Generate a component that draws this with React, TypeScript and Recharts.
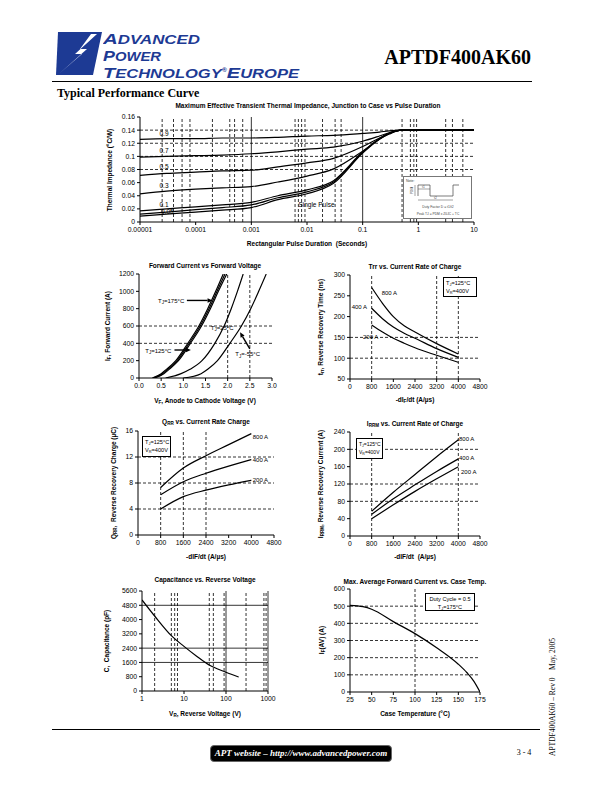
import React from "react";
import { LineChart, Line, XAxis, YAxis, ReferenceLine, ReferenceDot } from "recharts";

const SANS = "'Liberation Sans', Arial, Helvetica, sans-serif";
const SERIF = "'Liberation Serif', 'Times New Roman', serif";
const BLUE = "#1d3a94";

// ---- transient thermal impedance ----
const pulseTime = [0.00001, 0.00003, 0.0001, 0.0003, 0.001, 0.003, 0.01, 0.03, 0.1, 0.2, 0.3, 0.5, 1, 10];
const zDuty09 = [0.126, 0.127, 0.127, 0.128, 0.128, 0.129, 0.131, 0.132, 0.135, 0.137, 0.139, 0.14, 0.14, 0.14];
const zDuty07 = [0.099, 0.1, 0.101, 0.102, 0.104, 0.107, 0.111, 0.114, 0.123, 0.131, 0.136, 0.14, 0.14, 0.14];
const zDuty05 = [0.071, 0.074, 0.076, 0.078, 0.079, 0.084, 0.09, 0.097, 0.115, 0.128, 0.135, 0.14, 0.14, 0.14];
const zDuty03 = [0.043, 0.047, 0.05, 0.052, 0.054, 0.061, 0.07, 0.081, 0.108, 0.126, 0.134, 0.14, 0.14, 0.14];
const zDuty01 = [0.017, 0.02, 0.023, 0.026, 0.03, 0.04, 0.049, 0.063, 0.107, 0.127, 0.135, 0.14, 0.14, 0.14];
const zDuty005 = [0.012, 0.015, 0.019, 0.022, 0.026, 0.037, 0.046, 0.061, 0.106, 0.127, 0.135, 0.14, 0.14, 0.14];
const zSingle = [0.009, 0.012, 0.015, 0.018, 0.022, 0.034, 0.043, 0.059, 0.105, 0.126, 0.135, 0.14, 0.14, 0.14];
const pulseTicks = [0.00001, 0.0001, 0.001, 0.01, 0.1, 1, 10];
const pulseTickLabels = ["0.00001", "0.0001", "0.001", "0.01", "0.1", "1", "10"];
const zTicks = [0, 0.02, 0.04, 0.06, 0.08, 0.1, 0.12, 0.14, 0.16];
const pulseDashX = [0.000025, 0.00004, 0.000057, 0.000079, 0.0002, 0.00041, 0.0005, 0.0007, 0.0061, 0.007, 0.008, 0.0092, 0.019, 0.032, 0.041, 0.51, 0.72, 0.83, 0.93, 3.1, 4.1, 6.3];
const pulseSolidX = [0.001, 0.1];
const zDashY = [0.08, 0.1, 0.12, 0.14];

// ---- forward current vs forward voltage ----
const fwdCurrent = [0, 50, 100, 200, 400, 600, 800, 1000, 1200];
const vf175 = [0.3, 0.5, 0.62, 0.83, 1.1, 1.35, 1.55, 1.73, 1.9];
const vf150 = [0.32, 0.53, 0.65, 0.86, 1.13, 1.38, 1.58, 1.76, 1.94];
const vf125 = [0.35, 0.56, 0.68, 0.89, 1.16, 1.41, 1.61, 1.79, 1.98];
const vf25 = [0.6, 0.95, 1.15, 1.42, 1.71, 1.92, 2.08, 2.22, 2.35];
const vfm55 = [1.0, 1.4, 1.55, 1.77, 2.05, 2.31, 2.52, 2.7, 2.87];
const vfTicks = [0, 0.5, 1, 1.5, 2, 2.5, 3];
const ifTicks = [0, 200, 400, 600, 800, 1000, 1200];

// ---- trr ----
const trrRate = [800, 1200, 1600, 2000, 2400, 3200, 4000];
const trr800 = [270, 232, 200, 178, 163, 135, 110];
const trr400 = [220, 195, 175, 160, 148, 123, 102];
const trr200 = [180, 163, 148, 136, 125, 107, 90];
const trrTicks = [50, 100, 150, 200, 250, 300];
const rateTicks = [0, 800, 1600, 2400, 3200, 4000, 4800];

// ---- Qrr ----
const qrrRate = [800, 1600, 2400, 3200, 4000];
const qrr800 = [7.3, 10.3, 12.2, 13.9, 15.6];
const qrr400 = [6.2, 8.2, 9.5, 10.6, 11.6];
const qrr200 = [4.0, 5.9, 6.9, 7.7, 8.4];
const qrrTicks = [0, 4, 8, 12, 16];

// ---- Irrm ----
const irrmRate = [800, 1600, 2400, 3200, 4000];
const irrm800 = [57, 101, 142, 183, 222];
const irrm400 = [50, 86, 118, 149, 178];
const irrm200 = [40, 72, 103, 132, 160];
const irrmTicks = [0, 40, 80, 120, 160, 200, 240];

// ---- capacitance ----
const capVolt = [1, 2, 5, 10, 20, 40, 100, 200];
const capPf = [5100, 4200, 3100, 2500, 1950, 1450, 1050, 780];
const capTicksX = [1, 10, 100, 1000];
const capTicksY = [0, 800, 1600, 2400, 3200, 4000, 4800, 5600];
const capDashX = [2, 5, 6, 7, 40, 50, 90, 300, 800, 900];
const capSolidX = [100, 1000];
const capSolidY = [1600, 2400, 4800];

// ---- average forward current vs case temp ----
const caseTemp = [25, 40, 50, 75, 100, 125, 150, 160, 168, 175];
const ifAvg = [505, 497, 482, 410, 340, 258, 162, 112, 62, 0];
const tempTicks = [25, 50, 75, 100, 125, 150, 175];
const ifAvgTicks = [0, 100, 200, 300, 400, 500, 600];

const xy = (xs: number[], ys: number[]) => xs.map((x, k) => ({ x, y: ys[k] }));

const thermalRows = pulseTime.map((t, k) => ({
  t,
  d09: zDuty09[k],
  d07: zDuty07[k],
  d05: zDuty05[k],
  d03: zDuty03[k],
  d01: zDuty01[k],
  d005: zDuty005[k],
  single: zSingle[k],
}));

const tickStyle = { fontSize: 6.8, fill: "#000", fontFamily: SANS };
const axisCommon = {
  axisLine: { stroke: "#000" },
  tickLine: { stroke: "#000" },
  tickSize: 3,
  tickMargin: 2,
  tick: tickStyle,
  interval: 0 as const,
  allowDataOverflow: true,
};
// extra room on the right so the last x tick label is not clipped
const MR = 14;

const DASH = "3 2";
const vLines = (xs: number[], dashed = true) =>
  xs.map((x) => (
    <ReferenceLine key={"v" + x + dashed} x={x} stroke="#000" strokeWidth={0.8} strokeDasharray={dashed ? DASH : undefined} />
  ));
const hLines = (ys: number[], dashed = true) =>
  ys.map((y) => (
    <ReferenceLine key={"h" + y + dashed} y={y} stroke="#000" strokeWidth={0.8} strokeDasharray={dashed ? DASH : undefined} />
  ));

const curve = (key: string, dataKey: string, data?: any[]) => (
  <Line
    key={key}
    data={data}
    type="monotone"
    dataKey={dataKey}
    stroke="#000"
    strokeWidth={1.2}
    dot={false}
    activeDot={false}
    isAnimationActive={false}
  />
);

const note =
  (content: React.ReactNode, anchor: "start" | "middle" | "end" = "start", size = 6.5) =>
  (p: any) =>
    (
      <text x={p.cx} y={p.cy} fontSize={size} fontFamily={SANS} fill="#000" textAnchor={anchor} dominantBaseline="central">
        {content}
      </text>
    );

const tj = (rest: string) => (
  <>
    <tspan>T</tspan>
    <tspan fontSize={4.5} dy={1.5}>J</tspan>
    <tspan dy={-1.5}>{rest}</tspan>
  </>
);

const arrow = (p: any) => {
  const { x1, y1, x2, y2 } = p;
  const a = Math.atan2(y2 - y1, x2 - x1);
  const L = 5;
  const W = 2.3;
  const bx = x2 - L * Math.cos(a);
  const by = y2 - L * Math.sin(a);
  const px = -Math.sin(a) * W;
  const py = Math.cos(a) * W;
  return (
    <g>
      <line x1={x1} y1={y1} x2={bx} y2={by} stroke="#000" strokeWidth={1.4} />
      <polygon points={`${x2},${y2} ${bx + px},${by + py} ${bx - px},${by - py}`} fill="#000" />
    </g>
  );
};

function T({ x, y, s = 6.5, b = false, rot = 0, font = SANS, style = {}, children }: any) {
  return (
    <div
      style={{
        position: "absolute",
        left: x,
        top: y,
        transform: `translate(-50%,-50%) rotate(${rot}deg)`,
        fontSize: s,
        fontWeight: b ? 700 : 400,
        fontFamily: font,
        whiteSpace: "pre",
        lineHeight: 1,
        color: "#000",
        ...style,
      }}
    >
      {children}
    </div>
  );
}

const Sub = ({ children }: any) => <sub style={{ fontSize: "70%", verticalAlign: "-0.25em", lineHeight: 0 }}>{children}</sub>;

function CondBox({ l, t, w, h, center = false, s = 5.6, children }: any) {
  return (
    <div
      style={{
        position: "absolute",
        left: l,
        top: t,
        width: w,
        height: h,
        boxSizing: "border-box",
        border: "1px solid #000",
        background: "#fff",
        fontSize: s,
        fontFamily: SANS,
        lineHeight: "8px",
        padding: "1px 2px",
        textAlign: center ? "center" : "left",
        whiteSpace: "nowrap",
        overflow: "hidden",
      }}
    >
      {children}
    </div>
  );
}

// one stretched line of the logo lettering
function LogoWord({ y, len, children }: any) {
  return (
    <text
      x={0}
      y={y}
      fill={BLUE}
      fontFamily={SANS}
      fontWeight={900}
      fontStyle="italic"
      textLength={len}
      lengthAdjust="spacingAndGlyphs"
    >
      {children}
    </text>
  );
}

function Header() {
  const big = 14.5;
  const small = 12;
  return (
    <>
      <svg style={{ position: "absolute", left: 55, top: 31 }} width={48} height={46}>
        <polygon points="3,1 47,1 38,44 1,44" fill={BLUE} />
        <polygon points="42,3 20,23 27,23 5,42 32,18 25,18 36,3" fill="#fff" />
      </svg>
      <svg style={{ position: "absolute", left: 103, top: 30 }} width={205} height={52}>
        <LogoWord y={14} len={97}>
          <tspan fontSize={big}>A</tspan>
          <tspan fontSize={small}>DVANCED</tspan>
        </LogoWord>
        <LogoWord y={30.8} len={58}>
          <tspan fontSize={big}>P</tspan>
          <tspan fontSize={small}>OWER</tspan>
        </LogoWord>
        <LogoWord y={47.6} len={196}>
          <tspan fontSize={big}>T</tspan>
          <tspan fontSize={small}>ECHNOLOGY</tspan>
          <tspan fontSize={5} dy={-6}>®</tspan>
          <tspan fontSize={big} dy={6}>E</tspan>
          <tspan fontSize={small}>UROPE</tspan>
        </LogoWord>
      </svg>
      <div
        style={{
          position: "absolute",
          right: 612 - 531,
          top: 46,
          fontFamily: SERIF,
          fontWeight: 700,
          fontSize: 20,
          lineHeight: "22px",
        }}
      >
        APTDF400AK60
      </div>
      <div style={{ position: "absolute", left: 52, top: 81, width: 480, height: 1, background: "#000" }} />
      <div style={{ position: "absolute", left: 57, top: 86, fontFamily: SERIF, fontWeight: 700, fontSize: 12, lineHeight: "14px" }}>
        Typical Performance Curve
      </div>
    </>
  );
}

function ThermalChart() {
  return (
    <>
      <T x={308} y={106} b>
        Maximum Effective Transient Thermal Impedance, Junction to Case vs Pulse Duration
      </T>
      <div style={{ position: "absolute", left: 100, top: 110 }}>
        <LineChart width={374 + MR} height={130} data={thermalRows} margin={{ top: 7, right: MR, bottom: 0, left: 0 }}>
          <XAxis
            dataKey="t"
            type="number"
            scale="log"
            domain={[0.00001, 10]}
            ticks={pulseTicks}
            tickFormatter={(v: number) => pulseTickLabels[pulseTicks.indexOf(v)] ?? String(v)}
            height={18}
            {...axisCommon}
          />
          <YAxis type="number" domain={[0, 0.16]} ticks={zTicks} width={40} {...axisCommon} />
          {vLines(pulseDashX)}
          {vLines(pulseSolidX, false)}
          {hLines(zDashY)}
          {curve("d09", "d09")}
          {curve("d07", "d07")}
          {curve("d05", "d05")}
          {curve("d03", "d03")}
          {curve("d01", "d01")}
          {curve("d005", "d005")}
          {curve("single", "single")}
          <ReferenceDot x={0.000027} y={0.1355} r={0} ifOverflow="visible" shape={note("0.9", "middle")} />
          <ReferenceDot x={0.000027} y={0.109} r={0} ifOverflow="visible" shape={note("0.7", "middle")} />
          <ReferenceDot x={0.000027} y={0.0843} r={0} ifOverflow="visible" shape={note("0.5", "middle")} />
          <ReferenceDot x={0.000027} y={0.055} r={0} ifOverflow="visible" shape={note("0.3", "middle")} />
          <ReferenceDot x={0.000027} y={0.0266} r={0} ifOverflow="visible" shape={note("0.1", "middle")} />
          <ReferenceDot x={0.000031} y={0.0153} r={0} ifOverflow="visible" shape={note("0.05", "middle")} />
          <ReferenceDot x={0.0148} y={0.0266} r={0} ifOverflow="visible" shape={note("Single Pulse", "middle")} />
        </LineChart>
      </div>
      <T x={110} y={170} rot={-90} b>
        Thermal Impedance (°C/W)
      </T>
      <T x={307} y={244} b>
        Rectangular Pulse Duration{"  "}(Seconds)
      </T>
      <div
        style={{
          position: "absolute",
          left: 403,
          top: 176,
          width: 69,
          height: 43,
          background: "#fff",
          border: "1px solid #777",
          boxSizing: "border-box",
        }}
      >
        <svg width={67} height={41} style={{ display: "block" }} fontFamily={SANS} fill="#444">
          <text x={2} y={5} fontSize={3.6}>
            Note:
          </text>
          <polyline points="14,19 14,8 26,8 26,19 49,19 49,8 55,8" fill="none" stroke="#444" strokeWidth={0.7} />
          <line x1={11} y1={8} x2={11} y2={19} stroke="#444" strokeWidth={0.5} />
          <text transform="translate(9,13.5) rotate(-90)" fontSize={3.2} textAnchor="middle">
            PDM
          </text>
          <line x1={14} y1={12} x2={26} y2={12} stroke="#444" strokeWidth={0.5} />
          <text x={18} y={11} fontSize={3.2}>
            t1
          </text>
          <line x1={14} y1={23} x2={49} y2={23} stroke="#444" strokeWidth={0.5} />
          <text x={30} y={22} fontSize={3.2}>
            t2
          </text>
          <text x={34} y={31} textAnchor="middle" fontSize={3.4}>
            Duty Factor  D = t1/t2
          </text>
          <text x={34} y={38} textAnchor="middle" fontSize={3.3}>
            Peak TJ = PDM x ZθJC + TC
          </text>
        </svg>
      </div>
    </>
  );
}

function ForwardChart() {
  return (
    <>
      <T x={205} y={266} b>
        Forward Current vs Forward Voltage
      </T>
      <div style={{ position: "absolute", left: 100, top: 268 }}>
        <LineChart width={172 + MR} height={124} margin={{ top: 6, right: MR, bottom: 0, left: 0 }}>
          <XAxis dataKey="x" type="number" domain={[0, 3]} ticks={vfTicks} tickFormatter={(v: number) => v.toFixed(1)} height={14} {...axisCommon} />
          <YAxis type="number" domain={[0, 1200]} ticks={ifTicks} width={39} {...axisCommon} />
          {vLines([2, 2.5])}
          {hLines([400, 600])}
          {curve("a", "y", xy(vf175, fwdCurrent))}
          {curve("b", "y", xy(vf150, fwdCurrent))}
          {curve("c", "y", xy(vf125, fwdCurrent))}
          {curve("d", "y", xy(vf25, fwdCurrent))}
          {curve("e", "y", xy(vfm55, fwdCurrent))}
          <ReferenceDot x={0.43} y={892} r={0} ifOverflow="visible" shape={note(tj("=175°C"), "start", 6)} />
          <ReferenceLine segment={[{ x: 1.08, y: 895 }, { x: 1.66, y: 895 }]} ifOverflow="visible" shape={arrow} />
          <ReferenceDot x={0.14} y={312} r={0} ifOverflow="visible" shape={note(tj("=125°C"), "start", 6)} />
          <ReferenceLine segment={[{ x: 0.8, y: 323 }, { x: 1.17, y: 323 }]} ifOverflow="visible" shape={arrow} />
          <ReferenceDot x={1.62} y={580} r={0} ifOverflow="visible" shape={note(tj("=25°C"), "start", 6)} />
          <ReferenceDot x={2.17} y={273} r={0} ifOverflow="visible" shape={note(tj("=-55°C"), "start", 6)} />
          <ReferenceLine segment={[{ x: 2.5, y: 335 }, { x: 2.28, y: 527 }]} ifOverflow="visible" shape={arrow} />
        </LineChart>
      </div>
      <T x={108} y={326} rot={-90} b>
        I<Sub>F</Sub>, Forward Current (A)
      </T>
      <T x={205} y={401} b>
        V<Sub>F</Sub>, Anode to Cathode Voltage (V)
      </T>
    </>
  );
}

function TrrChart() {
  return (
    <>
      <T x={415} y={267} b>
        Trr vs. Current Rate of Charge
      </T>
      <div style={{ position: "absolute", left: 310, top: 269 }}>
        <LineChart width={170 + MR} height={124} margin={{ top: 6, right: MR, bottom: 0, left: 0 }}>
          <XAxis dataKey="x" type="number" domain={[0, 4800]} ticks={rateTicks} height={14} {...axisCommon} />
          <YAxis type="number" domain={[50, 300]} ticks={trrTicks} width={40} {...axisCommon} />
          {vLines([800, 3200, 4000])}
          {hLines([100, 150])}
          {curve("a", "y", xy(trrRate, trr800))}
          {curve("b", "y", xy(trrRate, trr400))}
          {curve("c", "y", xy(trrRate, trr200))}
          <ReferenceDot x={1170} y={256} r={0} ifOverflow="visible" shape={note("800 A", "start", 6)} />
          <ReferenceDot x={60} y={222} r={0} ifOverflow="visible" shape={note("400 A", "start", 6)} />
          <ReferenceDot x={480} y={150} r={0} ifOverflow="visible" shape={note("200 A", "start", 6)} />
        </LineChart>
      </div>
      <CondBox l={443} t={277} w={34} h={20}>
        <div>
          T<Sub>J</Sub>=125°C
        </div>
        <div>
          V<Sub>R</Sub>=400V
        </div>
      </CondBox>
      <T x={321} y={327} rot={-90} b>
        t<Sub>rr</Sub>, Reverse Recovery Time (ns)
      </T>
      <T x={415} y={400} b>
        -dI<Sub>F</Sub>/dt (A/µs)
      </T>
    </>
  );
}

function QrrChart() {
  return (
    <>
      <T x={206} y={422} b>
        Q<Sub>RR</Sub> vs. Current Rate Charge
      </T>
      <div style={{ position: "absolute", left: 98, top: 425 }}>
        <LineChart width={176 + MR} height={124} margin={{ top: 6, right: MR, bottom: 0, left: 0 }}>
          <XAxis dataKey="x" type="number" domain={[0, 4800]} ticks={rateTicks} height={14} {...axisCommon} />
          <YAxis type="number" domain={[0, 16]} ticks={qrrTicks} width={40} {...axisCommon} />
          {vLines([800, 1600, 2400])}
          {hLines([4, 8, 12])}
          {curve("a", "y", xy(qrrRate, qrr800))}
          {curve("b", "y", xy(qrrRate, qrr400))}
          {curve("c", "y", xy(qrrRate, qrr200))}
          <ReferenceDot x={4050} y={15.1} r={0} ifOverflow="visible" shape={note("800 A", "start", 6)} />
          <ReferenceDot x={4050} y={11.6} r={0} ifOverflow="visible" shape={note("400 A", "start", 6)} />
          <ReferenceDot x={4050} y={8.5} r={0} ifOverflow="visible" shape={note("200 A", "start", 6)} />
        </LineChart>
      </div>
      <CondBox l={142} t={436} w={29} h={21}>
        <div>
          T<Sub>J</Sub>=125°C
        </div>
        <div>
          V<Sub>R</Sub>=400V
        </div>
      </CondBox>
      <T x={114} y={483} rot={-90} b>
        Q<Sub>RR</Sub>,{"  "}Reverse Recovery Charge (µC)
      </T>
      <T x={206} y={557} b>
        -dIF/dt (A/µs)
      </T>
    </>
  );
}

function IrrmChart() {
  return (
    <>
      <T x={415} y={424} b>
        I<Sub>RRM</Sub> vs. Current Rate of Charge
      </T>
      <div style={{ position: "absolute", left: 310, top: 426 }}>
        <LineChart width={170 + MR} height={124} margin={{ top: 6, right: MR, bottom: 0, left: 0 }}>
          <XAxis dataKey="x" type="number" domain={[0, 4800]} ticks={rateTicks} height={14} {...axisCommon} />
          <YAxis type="number" domain={[0, 240]} ticks={irrmTicks} width={40} {...axisCommon} />
          {vLines([800, 4000])}
          {hLines([80, 120, 200])}
          {curve("a", "y", xy(irrmRate, irrm800))}
          {curve("b", "y", xy(irrmRate, irrm400))}
          {curve("c", "y", xy(irrmRate, irrm200))}
          <ReferenceDot x={4025} y={223} r={0} ifOverflow="visible" shape={note("800 A", "start", 6)} />
          <ReferenceDot x={4025} y={179} r={0} ifOverflow="visible" shape={note("400 A", "start", 6)} />
          <ReferenceDot x={4100} y={148} r={0} ifOverflow="visible" shape={note("200 A", "start", 6)} />
        </LineChart>
      </div>
      <CondBox l={356} t={438} w={27} h={21} s={5}>
        <div>
          T<Sub>J</Sub>=125°C
        </div>
        <div>
          V<Sub>R</Sub>=400V
        </div>
      </CondBox>
      <T x={321} y={484} rot={-90} b>
        I<Sub>RRM</Sub>, Reverse Recovery Current (A)
      </T>
      <T x={415} y={557} b>
        -dIF/dt{"  "}(A/µs)
      </T>
    </>
  );
}

function CapChart() {
  return (
    <>
      <T x={205} y={580} b>
        Capacitance vs. Reverse Voltage
      </T>
      <div style={{ position: "absolute", left: 102, top: 585 }}>
        <LineChart width={166 + MR} height={120} margin={{ top: 6, right: MR, bottom: 0, left: 0 }}>
          <XAxis dataKey="x" type="number" scale="log" domain={[1, 1000]} ticks={capTicksX} height={14} {...axisCommon} />
          <YAxis type="number" domain={[0, 5600]} ticks={capTicksY} width={40} {...axisCommon} />
          {vLines(capDashX)}
          {vLines(capSolidX, false)}
          {hLines(capSolidY, false)}
          {curve("a", "y", xy(capVolt, capPf))}
        </LineChart>
      </div>
      <T x={107} y={641} rot={-90} b>
        C,{"  "}Capacitance (pF)
      </T>
      <T x={205} y={714} b>
        V<Sub>R</Sub>, Reverse Voltage (V)
      </T>
    </>
  );
}

function IfavChart() {
  return (
    <>
      <T x={415} y={582} b>
        Max. Average Forward Current vs. Case Temp.
      </T>
      <div style={{ position: "absolute", left: 310, top: 583 }}>
        <LineChart width={170 + MR} height={123} margin={{ top: 6, right: MR, bottom: 0, left: 0 }}>
          <XAxis dataKey="x" type="number" domain={[25, 175]} ticks={tempTicks} height={14} {...axisCommon} />
          <YAxis type="number" domain={[0, 600]} ticks={ifAvgTicks} width={40} {...axisCommon} />
          {vLines([100])}
          {hLines([100, 200, 300, 400, 500])}
          {curve("a", "y", xy(caseTemp, ifAvg))}
        </LineChart>
      </div>
      <CondBox l={425} t={593} w={50} h={18} center>
        <div>Duty Cycle = 0.5</div>
        <div>
          T<Sub>J</Sub>=175°C
        </div>
      </CondBox>
      <T x={322} y={640} rot={-90} b>
        I<Sub>F</Sub>(AV) (A)
      </T>
      <T x={415} y={714} b>
        Case Temperature (°C)
      </T>
    </>
  );
}

function Footer() {
  return (
    <>
      <div style={{ position: "absolute", left: 52, top: 729, width: 488, height: 1, background: "#000" }} />
      <div
        style={{
          position: "absolute",
          left: 210,
          top: 745,
          width: 182,
          height: 17,
          background: "#000",
          borderRadius: 4,
          boxSizing: "border-box",
          border: "1px solid #666",
          color: "#fff",
          fontFamily: SERIF,
          fontWeight: 700,
          fontStyle: "italic",
          fontSize: 9,
          lineHeight: "15px",
          textAlign: "center",
          whiteSpace: "nowrap",
        }}
      >
        APT website – http://www.advancedpower.com
      </div>
      <T x={524} y={753} s={8} font={SERIF}>
        3 - 4
      </T>
      <T x={553} y={697} s={7.5} rot={-90} font={SERIF}>
        APTDF400AK60 – Rev 0{"    "}May, 2005
      </T>
    </>
  );
}

export default function App() {
  return (
    <div
      style={{
        position: "absolute",
        left: 0,
        top: 0,
        width: 612,
        height: 792,
        background: "#fff",
        overflow: "hidden",
        fontFamily: SANS,
      }}
    >
      <Header />
      <ThermalChart />
      <ForwardChart />
      <TrrChart />
      <QrrChart />
      <IrrmChart />
      <CapChart />
      <IfavChart />
      <Footer />
    </div>
  );
}
